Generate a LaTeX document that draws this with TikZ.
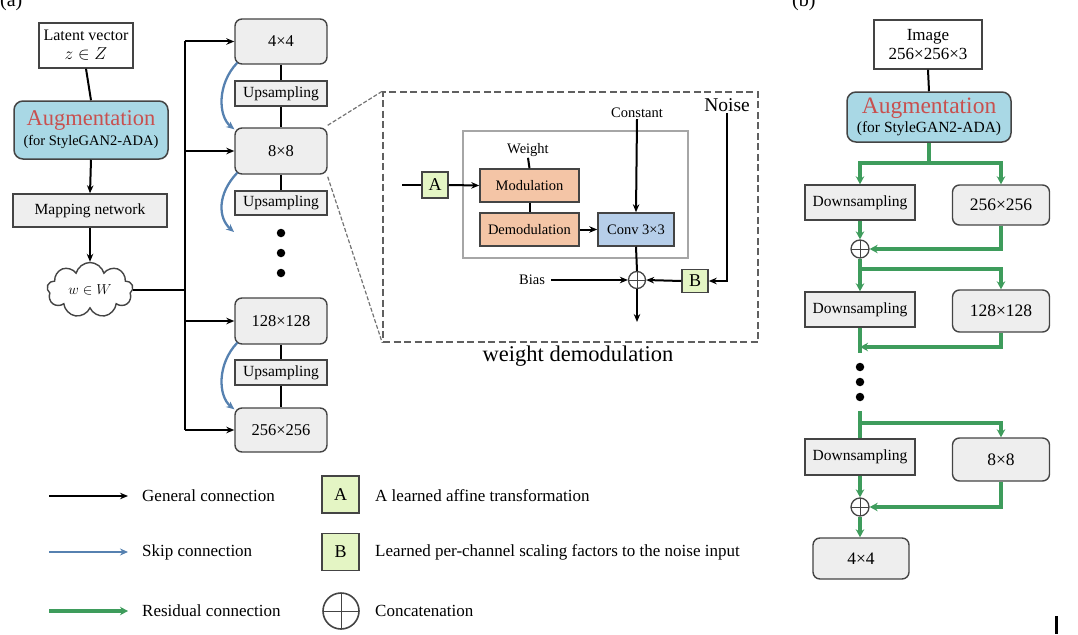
\documentclass[tikz,border=0pt]{standalone}
\usepackage{fontspec}
\setmainfont{Liberation Serif}
\usetikzlibrary{arrows.meta,shapes.symbols,shapes.geometric}
\definecolor{boxfill}{HTML}{EEEEEE}
\definecolor{boxline}{HTML}{444444}
\definecolor{augfill}{HTML}{A9D8E5}
\definecolor{augred}{HTML}{C8504F}
\definecolor{peachfill}{HTML}{F4C5A6}
\definecolor{convfill}{HTML}{B6CEE9}
\definecolor{afill}{HTML}{E4F5C4}
\definecolor{skipblue}{HTML}{5681B0}
\definecolor{resgreen}{HTML}{3E9C5C}
\begin{document}
\begin{tikzpicture}[x=1pt,y=-1pt,
  wh/.style 2 args={minimum width=#1pt, minimum height=#2pt, inner sep=0pt},
  txt/.style={font=\fontsize{15.5}{17}\selectfont},
  sz/.style={font=\fontsize{16.5}{18}\selectfont},
  small/.style={font=\fontsize{14.5}{16}\selectfont},
  gbox/.style={draw=boxline, line width=1.4pt, fill=boxfill, txt, align=center},
  rgbox/.style={gbox, rounded corners=7pt, sz},
  wbox/.style={draw=boxline, line width=1.4pt, fill=white, align=center},
  augbox/.style={draw=boxline, line width=1.5pt, fill=augfill, rounded corners=9pt, align=center},
  peachbox/.style={draw=boxline, line width=1.5pt, fill=peachfill, small},
  convbox/.style={draw=boxline, line width=1.5pt, fill=convfill, small},
  abox/.style={draw=boxline, line width=1.5pt, fill=afill, font=\fontsize{16}{18}\selectfont},
  oplus/.style={circle, draw=boxline, line width=1.3pt, fill=white, minimum size=#1, inner sep=0pt,
    path picture={\draw[line width=1pt] (path picture bounding box.north) -- (path picture bounding box.south)
      (path picture bounding box.west) -- (path picture bounding box.east);}},
  gen/.style={draw=black, line width=2pt},
  genar/.style={gen, -{Stealth[length=8pt,width=6.5pt]}},
  skp/.style={draw=skipblue, line width=2.3pt, -{Stealth[length=8pt,width=7pt]}},
  resid/.style={draw=resgreen, line width=3.2pt},
  residar/.style={resid, -{Stealth[length=8pt,width=8.5pt]}},
  dot/.style={circle, fill=black, minimum size=8.5pt, inner sep=0pt},
  lgtxt/.style={anchor=west, font=\fontsize{17}{19}\selectfont, inner sep=0pt}
]
\useasboundingbox (0,0) rectangle (1078,634);

% labels (a), (b)
\node[anchor=base west, font=\fontsize{20}{22}\selectfont, inner sep=0pt] (la) at (0,7) {(a)};
\node[anchor=base west, font=\fontsize{20}{22}\selectfont, inner sep=0pt] (lb) at (792,7) {(b)};

% ---------- left column ----------
\node[wbox, wh={94}{45}, font=\fontsize{16}{19}\selectfont] (latent) at (86,45.5) {Latent vector\\$z\in Z$};
\node[augbox, wh={154}{58}, font=\fontsize{14.5}{20}\selectfont] (aug) at (91,130)
  {{\color{augred}\fontsize{22.5}{24}\selectfont Augmentation}\\(for StyleGAN2-ADA)};
\node[gbox, wh={154}{33}] (map) at (90,210.5) {Mapping network};
\node[cloud, cloud puffs=9, cloud ignores aspect, draw=boxline, line width=1.4pt, fill=white,
  minimum width=86pt, minimum height=55pt, inner sep=0pt, font=\fontsize{15}{17}\selectfont] (cloud) at (90,290) {$w\in W$};
\draw[gen] (latent.south) -- (aug.north);
\draw[genar] (aug.south) -- (map.north);
\draw[genar] (map.south) -- (cloud.north);

% ---------- synthesis column ----------
\node[rgbox, wh={92}{45}] (s4) at (281,41.5) {4×4};
\node[gbox, wh={92}{25}] (up1) at (281,93.5) {Upsampling};
\node[rgbox, wh={92}{46}] (s8) at (281,151) {8×8};
\node[gbox, wh={92}{24}] (up2) at (281,203) {Upsampling};
\node[dot] (d1) at (281,233) {};
\node[dot] (d2) at (281,253) {};
\node[dot] (d3) at (281,273) {};
\node[rgbox, wh={92}{46}] (s128) at (281,321) {128×128};
\node[gbox, wh={92}{25}] (up3) at (281,372.5) {Upsampling};
\node[rgbox, wh={92}{44}] (s256) at (281,430) {256×256};

\draw[gen] (s4.south) -- (up1.north);
\draw[gen] (up1.south) -- (s8.north);
\draw[gen] (s8.south) -- (up2.north);
\draw[gen] (s128.south) -- (up3.north);
\draw[gen] (up3.south) -- (s256.north);

% bus
\coordinate (bt) at (185,41.5);
\coordinate (bb) at (185,430);
\draw[gen] (bt) -- (bb);
\draw[gen] (cloud.east) -- (cloud.east -| bt);
\draw[genar] (bt) -- (s4.west);
\draw[genar] (s8.west -| bt) -- (s8.west);
\draw[genar] (s128.west -| bt) -- (s128.west);
\draw[genar] (bb) -- (s256.west);

% skip connections
\coordinate (sk2) at (234,232);
\draw[skp] ([shift={(3,-2)}]s4.south west) .. controls (217,84) and (218,116) .. ([shift={(0,2)}]s8.north west);
\draw[skp] ([shift={(3,-2)}]s8.south west) .. controls (217,194) and (218,218) .. (sk2);
\draw[skp] ([shift={(3,-2)}]s128.south west) .. controls (217,364) and (218,396) .. ([shift={(0,2)}]s256.north west);

% ---------- inset ----------
\node[draw=boxline!85, dash pattern=on 7pt off 3.5pt, line width=1.5pt, wh={375}{250}] (inset) at (570.5,217) {};
\draw[draw=boxline!75, dash pattern=on 4pt off 2pt, line width=1.2pt] ([shift={(0,-2)}]s8.north east) -- (inset.north west);
\draw[draw=boxline!75, dash pattern=on 4pt off 2pt, line width=1.2pt] ([shift={(0,2)}]s8.south east) -- (inset.south west);
\node[anchor=north, font=\fontsize{22.5}{24}\selectfont, inner sep=0pt] (wdm) at (578,346) {weight demodulation};

\node[draw=black!35, line width=1.3pt, wh={225}{127}] (inner) at (575.5,194.5) {};
\node[small, inner sep=1pt] (const) at (637,113) {Constant};
\node[font=\fontsize{19.5}{21}\selectfont, inner sep=1pt] (noise) at (727,105) {Noise};
\node[small, inner sep=1pt] (weight) at (528,150) {Weight};
\node[abox, wh={26}{26}, font=\fontsize{18}{20}\selectfont] (A) at (435,185) {A};
\node[peachbox, wh={99}{33}] (mod) at (529.5,185.5) {Modulation};
\node[peachbox, wh={99}{33}] (demod) at (529.5,229.5) {Demodulation};
\node[convbox, wh={76}{33}] (conv) at (636,229.5) {Conv 3×3};
\node[oplus=17pt] (pl) at (637,280) {};
\node[small, inner sep=1pt] (bias) at (532,280) {Bias};
\node[abox, wh={26}{23}, font=\fontsize{18}{20}\selectfont] (B) at (695,281) {B};
\coordinate (ain) at (402,185);
\coordinate (aout) at (637,322);

\draw[gen] (ain) -- (A.west);
\draw[genar] (A.east) -- (mod.west);
\draw[gen] (weight.south) -- (mod.north);
\draw[gen] (mod.south) -- (demod.north);
\draw[genar] (demod.east) -- (conv.west);
\draw[genar] (const.south) -- (conv.north);
\draw[gen] (conv.south) -- (pl.north);
\draw[genar] ([xshift=5pt]bias.east) -- (pl.west);
\draw[genar] (B.west) -- (pl.east);
\draw[genar] (noise.south) |- (B.east);
\draw[genar] (pl.south) -- (aout);

% ---------- right column (b) ----------
\node[wbox, wh={108}{49}, font=\fontsize{17}{19}\selectfont] (img) at (928,44.5) {Image\\256×256×3};
\node[augbox, wh={164}{50}, font=\fontsize{15.5}{19}\selectfont] (aug2) at (929,117)
  {{\color{augred}\fontsize{23.5}{25}\selectfont Augmentation}\\(for StyleGAN2-ADA)};
\node[gbox, wh={110}{35}] (ds1) at (860,202.5) {Downsampling};
\node[rgbox, wh={97}{40}, font=\fontsize{17.5}{19}\selectfont] (r256) at (1001,205) {256×256};
\node[oplus=18pt] (p1) at (860,249) {};
\node[gbox, wh={110}{35}] (ds2) at (860,309.5) {Downsampling};
\node[rgbox, wh={97}{42}, font=\fontsize{17.5}{19}\selectfont] (r128) at (1001,311) {128×128};
\node[dot] (e1) at (860,367) {};
\node[dot] (e2) at (860,382) {};
\node[dot] (e3) at (860,397) {};
\node[gbox, wh={110}{36}] (ds3) at (860,457) {Downsampling};
\node[rgbox, wh={97}{43}, font=\fontsize{17.5}{19}\selectfont] (r8) at (1001,459.5) {8×8};
\node[oplus=18pt] (p2) at (860,507) {};
\node[rgbox, wh={96}{41}, font=\fontsize{17.5}{19}\selectfont] (r4) at (861,558.5) {4×4};

\draw[gen] (img.south) -- (aug2.north);
\coordinate (g1) at (929,163);
\draw[resid] (aug2.south) -- (g1);
\draw[residar] (g1) -| (ds1.north);
\draw[residar] (g1) -| (r256.north);
\draw[residar] (ds1.south) -- (p1.north);
\draw[residar] (r256.south) |- (p1.east);
\coordinate (g2) at (860,269);
\draw[residar] (p1.south) -- (ds2.north);
\draw[residar] (g2) -| (r128.north);
\coordinate (g3) at (860,353);
\coordinate (j3) at (860,347);
\draw[resid] (ds2.south) -- (g3);
\draw[residar] (r128.south) |- (j3);
\coordinate (g4) at (860,411);
\coordinate (g5) at (860,423);
\draw[resid] (g4) -- (ds3.north);
\draw[residar] (g5) -| (r8.north);
\draw[residar] (ds3.south) -- (p2.north);
\draw[residar] (r8.south) |- (p2.east);
\draw[residar] (p2.south) -- (p2.south |- r4.north);

% ---------- legend ----------
\coordinate (lg1a) at (49,496); \coordinate (lg1b) at (128,496);
\coordinate (lg2a) at (49,552); \coordinate (lg2b) at (128,552);
\coordinate (lg3a) at (49,611); \coordinate (lg3b) at (128,611);
\draw[genar, line width=2.4pt] (lg1a) -- (lg1b);
\draw[skp, line width=2.8pt] (lg2a) -- (lg2b);
\draw[residar, line width=3.4pt] (lg3a) -- (lg3b);
\node[lgtxt] (t1) at (142,496) {General connection};
\node[lgtxt] (t2) at (142,552) {Skip connection};
\node[lgtxt] (t3) at (142,611) {Residual connection};
\node[abox, wh={37}{37}, font=\fontsize{18}{20}\selectfont] (LA) at (340.5,494.5) {A};
\node[abox, wh={37}{37}, font=\fontsize{18}{20}\selectfont] (LB) at (340.5,552) {B};
\node[oplus=36pt, line width=1.6pt] (LP) at (341,611) {};
\node[lgtxt] (t4) at (375,496) {A learned affine transformation};
\node[lgtxt] (t5) at (375,552) {Learned per-channel scaling factors to the noise input};
\node[lgtxt] (t6) at (375,611) {Concatenation};

% cursor mark
\coordinate (m1) at (1056,616); \coordinate (m2) at (1056,634);
\draw[line width=3pt] (m1) -- (m2);
\end{tikzpicture}
\end{document}
